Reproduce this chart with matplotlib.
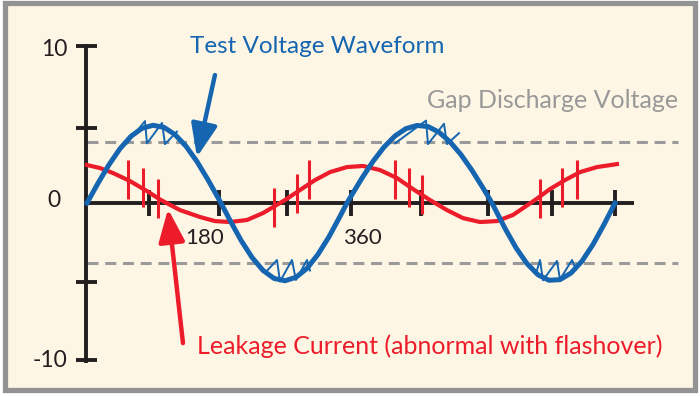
import matplotlib
matplotlib.use("Agg")
import matplotlib.pyplot as plt
from matplotlib.patches import Rectangle

# ---------------- data (degrees, volts-ish units) ----------------
blue_deg = [0, 15, 30, 45, 60, 75, 90, 105, 120, 135, 150, 165, 180, 182.7,
            195, 210, 225, 240, 255, 270, 285, 300, 315, 330, 345, 354.5,
            360, 375, 390, 405, 420, 435, 450, 465, 480, 495, 510, 525, 540, 552.3,
            555, 570, 585, 600, 615, 630, 645, 660, 675, 690, 705, 720]
blue_val = [0, 1.26, 2.44, 3.46, 4.25, 4.76, 4.95, 4.82, 4.36, 3.62, 2.64, 1.48, 0.23, 0,
            -1.10, -2.37, -3.46, -4.29, -4.80, -4.95, -4.73, -4.16, -3.27, -2.15, -0.85, 0,
            0.43, 1.59, 2.65, 3.56, 4.27, 4.74, 4.94, 4.87, 4.51, 3.90, 3.08, 2.08, 0.96, 0,
            -0.25, -1.61, -2.85, -3.86, -4.57, -4.92, -4.88, -4.46, -3.70, -2.64, -1.37, 0]

red_deg = [0, 17.7, 35.5, 58.6, 81.8, 100.9, 126.8, 154.1, 174.5, 195.0, 218.2, 240.0,
           270.0, 290.5, 310.9, 331.4, 354.5, 376.4, 399.5, 422.7, 444.5, 467.7, 490.9,
           512.7, 535.9, 559.1, 580.9, 610.9, 631.4, 651.8, 672.3, 695.5, 722.7]
red_val = [2.42, 2.23, 1.91, 1.40, 0.76, 0.19, -0.45, -0.89, -1.15, -1.21, -1.08, -0.64,
           0.19, 0.83, 1.46, 1.97, 2.29, 2.36, 2.10, 1.59, 0.89, 0.19, -0.45,
           -0.96, -1.21, -1.15, -0.76, 0.19, 0.89, 1.46, 1.97, 2.29, 2.48]

# flashover spikes on the leakage current
spike_deg = [55.9, 76.4, 96.8, 255.0, 286.4, 302.7, 420.0, 439.1, 456.8, 617.7, 647.7, 668.2]
spike_top = [2.74, 2.23, 1.53, 0.96, 1.85, 2.74, 2.74, 2.23, 1.78, 1.53, 2.23, 2.74]
spike_bot = [0.25, -0.25, -0.96, -1.53, -0.64, 0.25, 0.25, -0.25, -0.70, -0.96, -0.25, 0.25]

# voltage collapse zigzags at the peaks
zig1_deg = [54.5, 79.1, 81.8, 102.3, 106.4, 122.7]
zig1_val = [3.80, 5.22, 3.80, 5.10, 3.75, 4.55]
zig2_deg = [420.0, 462.3, 465.0, 486.8, 490.9, 507.3]
zig2_val = [3.80, 5.25, 3.75, 5.05, 3.75, 4.45]
zig3_deg = [231.8, 242.7, 259.1, 263.2, 279.5, 284.9, 300.0, 304.1]
zig3_val = [-3.76, -4.45, -3.63, -5.00, -3.63, -4.90, -3.63, -4.30]
zig4_deg = [601.4, 612.3, 617.7, 621.8, 640.9, 645.0, 661.4, 666.8]
zig4_val = [-3.82, -4.50, -3.63, -4.92, -3.69, -4.86, -3.63, -4.25]

gap_levels = [3.9, -3.8]

xtick_pos = [85, 180, 273, 360, 455, 547, 634, 720]
ytick_pos = [10, 4.8, -5, -10]
ytick_labels = {10: "10", 0: "0", -10: "-10"}

# ---------------- styling ----------------
BLUE = "#1565b0"
RED = "#ec1c2a"
GRAY = "#9a9a9a"
BLACK = "#231f20"
CREAM = "#fef6e5"
FONT = ["Lato", "DejaVu Sans"]

fig = plt.figure(figsize=(7.0, 3.96), dpi=100)
fig.patch.set_facecolor("white")

ax = fig.add_axes([0, 0, 1, 1])
ax.set_facecolor("none")
ax.set_xlim(-118.6, 835.9)
ax.set_ylim(-12.29, 12.93)
ax.axis("off")
ax.add_patch(Rectangle((5 / 700, 1 - 389.5 / 396), 689.5 / 700, 386.5 / 396,
                       transform=ax.transAxes, facecolor=CREAM,
                       edgecolor="#939393", lw=3.8, zorder=0, clip_on=False))

# axes
ax.plot([-1.5, -1.5], [-10.2, 10.1], color=BLACK, lw=2.8, solid_capstyle="butt", zorder=2)
ax.plot([-1.5, 746], [0, 0], color=BLACK, lw=2.8, solid_capstyle="butt", zorder=2)
for yt in ytick_pos:
    ax.plot([-15, 13], [yt, yt], color=BLACK, lw=2.8, solid_capstyle="butt", zorder=2)
for xt in xtick_pos:
    ax.plot([xt, xt], [-0.83, 0.83], color=BLACK, lw=2.8, solid_capstyle="butt", zorder=2)

# gap discharge levels
for g in gap_levels:
    ax.plot([0, 806], [g, g], color=GRAY, lw=2.2, dashes=(3.6, 2.2), zorder=1)

# curves
ax.plot(red_deg, red_val, color=RED, lw=3.0, solid_joinstyle="round", zorder=3)
ax.plot(blue_deg, blue_val, color=BLUE, lw=3.6, solid_joinstyle="round", zorder=4)
ax.vlines(spike_deg, spike_bot, spike_top, color=RED, lw=2.2, zorder=5)
for zd, zv in [(zig1_deg, zig1_val), (zig2_deg, zig2_val),
               (zig3_deg, zig3_val), (zig4_deg, zig4_val)]:
    ax.plot(zd, zv, color=BLUE, lw=1.4, zorder=5)

# tick labels
ax.text(-27, 9.8, ytick_labels[10], ha="right", va="center", fontsize=16.5,
        family=FONT, color=BLACK)
ax.text(-36, 0.15, ytick_labels[0], ha="right", va="center", fontsize=16.5,
        family=FONT, color=BLACK)
ax.text(-27, -10.05, ytick_labels[-10], ha="right", va="center", fontsize=16.5,
        family=FONT, color=BLACK)
ax.text(161, -2.25, "180", ha="center", va="center", fontsize=16, family=FONT, color=BLACK)
ax.text(375, -2.25, "360", ha="center", va="center", fontsize=16, family=FONT, color=BLACK)

# annotations
ax.text(140.5, 10.0, "Test Voltage Waveform", ha="left", va="center", fontsize=17.5,
        family=FONT, color=BLUE)
ax.text(463.6, 6.56, "Gap Discharge Voltage", ha="left", va="center", fontsize=18,
        family=FONT, color="#999999")
ax.text(150, -9.1, "Leakage Current (abnormal with flashover)", ha="left", va="center",
        fontsize=18, family=FONT, color=RED)

ax.annotate("", xy=(150.0, 2.93), xytext=(174.5, 8.15),
            arrowprops=dict(arrowstyle="-|>,head_length=1.0,head_width=0.4",
                            mutation_scale=20, lw=3.2, color=BLUE,
                            shrinkA=0, shrinkB=0), zorder=6)
ax.annotate("", xy=(110.5, -0.38), xytext=(130.9, -8.92),
            arrowprops=dict(arrowstyle="-|>,head_length=1.0,head_width=0.4",
                            mutation_scale=20, lw=3.2, color=RED,
                            shrinkA=0, shrinkB=0), zorder=6)

fig.savefig("out.png", dpi=100, facecolor="white")
